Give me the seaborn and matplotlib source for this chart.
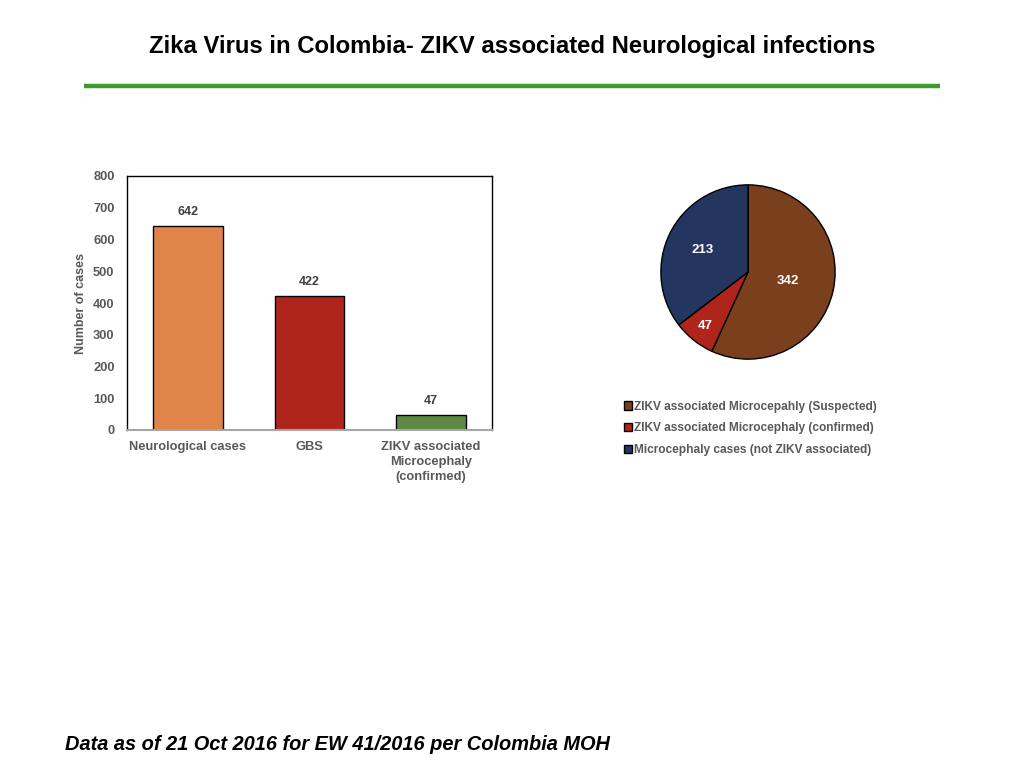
import matplotlib.pyplot as plt
import numpy as np
import pandas as pd
import seaborn as sns

# データ
bar_categories = ["Neurological cases", "GBS", "ZIKV associated\nMicrocephaly\n(confirmed)"]
bar_values = [642, 422, 47]
bar_colors = ["#E0844A", "#B0251B", "#5D8A42"]

pie_labels = ["ZIKV associated Microcepahly (Suspected)",
              "ZIKV associated Microcephaly (confirmed)",
              "Microcephaly cases (not ZIKV associated)"]
pie_values = [342, 47, 213]
pie_colors = ["#7A3F1D", "#B0251B", "#243660"]

y_ticks = [0, 100, 200, 300, 400, 500, 600, 700, 800]

sns.set_theme(style="white")
plt.rcParams['font.family'] = ['Liberation Sans', 'DejaVu Sans']
gray = "#595959"

fig = plt.figure(figsize=(10.24, 7.68), dpi=100)

# タイトルと緑の線
fig.text(0.5, 1 - 46 / 768, "Zika Virus in Colombia- ZIKV associated Neurological infections",
         ha="center", va="center", fontsize=17.2, fontweight="bold", color="black")
fig.add_artist(plt.Line2D([84 / 1024, 940 / 1024], [1 - 86 / 768, 1 - 86 / 768],
                          color="#3E9A2C", linewidth=3.2, solid_capstyle="butt"))

# 棒グラフ
ax = fig.add_axes([127 / 1024, 1 - 430 / 768, 365 / 1024, 254 / 768])
df = pd.DataFrame({"cat": bar_categories, "val": bar_values})
sns.barplot(data=df, x="cat", y="val", hue="cat", palette=bar_colors, legend=False,
            width=0.57, edgecolor="black", linewidth=1, ax=ax, saturation=1)
for c in ax.containers:
    ax.bar_label(c, padding=6, fontsize=9, fontweight="bold", color="#404040")
ax.set_ylim(0, 800)
ax.set_yticks(y_ticks)
ax.set_xlim(-0.5, 2.5)
ax.set_xlabel("")
ax.set_ylabel("Number of cases", fontsize=9, fontweight="bold", color=gray, labelpad=4)
ax.tick_params(axis="both", length=0, labelsize=9.3, labelcolor=gray)
for lab in ax.get_xticklabels() + ax.get_yticklabels():
    lab.set_fontweight("bold")
for lab in ax.get_xticklabels():
    lab.set_linespacing(1.3)
ax.tick_params(axis="y", pad=9)
ax.tick_params(axis="x", pad=8)
for s in ["top", "right", "left"]:
    ax.spines[s].set_color("black")
    ax.spines[s].set_linewidth(1)
ax.spines["bottom"].set_color("#A6A6A6")
ax.spines["bottom"].set_linewidth(1.5)

# 円グラフ
ax2 = fig.add_axes([660 / 1024, 1 - 360 / 768, 176 / 1024, 176 / 768])
wedges, texts, autotexts = ax2.pie(pie_values, colors=pie_colors, startangle=90, counterclock=False,
                                   autopct=lambda p: f"{p * sum(pie_values) / 100:.0f}",
                                   pctdistance=0.6,
                                   wedgeprops=dict(edgecolor="black", linewidth=1))
# ラベルの距離を調整
label_dist = [0.47, 0.79, 0.58]
for w, t, d in zip(wedges, autotexts, label_dist):
    ang = np.deg2rad((w.theta1 + w.theta2) / 2)
    t.set_position((d * np.cos(ang), d * np.sin(ang)))
    t.set_color("white")
    t.set_fontsize(9.5)
    t.set_fontweight("bold")
ax2.set_xlim(-1.01, 1.01)
ax2.set_ylim(-1.01, 1.01)
ax2.set_aspect("equal")

leg = fig.legend(wedges, pie_labels, loc="upper left", bbox_to_anchor=(613 / 1024, 1 - 390 / 768),
                 frameon=False, fontsize=8.6, handlelength=0.7, handleheight=0.7,
                 handletextpad=0.2, labelspacing=0.8)
for t in leg.get_texts():
    t.set_color(gray)
    t.set_fontweight("bold")

# 脚注
fig.text(65 / 1024, 1 - 744 / 768, "Data as of 21 Oct 2016 for EW 41/2016 per Colombia MOH",
         ha="left", va="center", fontsize=14.4, fontweight="bold", fontstyle="italic", color="black")

fig.savefig("out.png", dpi=100)
